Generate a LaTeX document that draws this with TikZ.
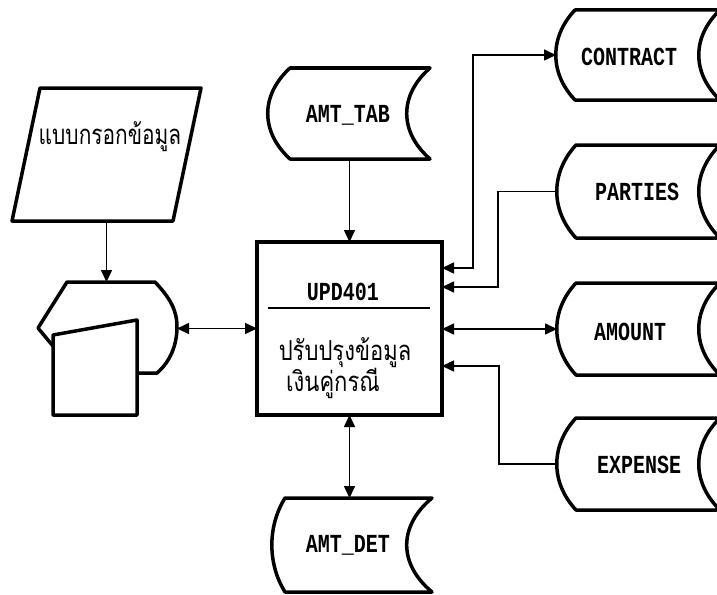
\documentclass[tikz,border=0pt]{standalone}
\usepackage{fontspec}
\newfontfamily\thaifont[Script=Thai]{Loma}
\newfontfamily\dbfont{Liberation Mono}
\usetikzlibrary{arrows.meta,calc}
\newcommand\dbpath[6]{%
  \draw[shapeline] (#1,#3) -- (#2,#3)
    .. controls ({#2-1.35*#6},{#3+0.3*(#4-#3)}) and ({#2-1.35*#6},{#4-0.3*(#4-#3)}) .. (#2,#4)
    -- (#1,#4)
    .. controls ({#1-1.35*#5},{#4-0.3*(#4-#3)}) and ({#1-1.35*#5},{#3+0.3*(#4-#3)}) .. cycle;}
\tikzset{
  shapeline/.style={line width=3.5pt, line join=round},
  conn/.style={line width=1.6pt},
  tip/.tip={Triangle[length=12pt,width=11pt]},
  arr/.style={conn, -tip},
  dbl/.style={conn, tip-tip},
  ghost/.style={draw=none, inner sep=0pt, outer sep=0pt, anchor=north west},
  dbtext/.style={inner sep=0pt, font=\dbfont\bfseries\fontsize{20}{20}\selectfont},
  thtext/.style={inner sep=0pt, font=\thaifont\fontsize{22}{24}\selectfont},
}
\begin{document}
\begin{tikzpicture}[x=1pt,y=-1pt]
\useasboundingbox (0,0) rectangle (717,594);
\clip (0,0) rectangle (717,594);
\fill[white] (0,0) rectangle (717,594);

% ghost nodes for shapes
\node[ghost, minimum width=189pt, minimum height=133pt] (form) at (12,88) {};
\node[ghost, minimum width=139pt, minimum height=133pt] (disp) at (38,282) {};
\node[ghost, minimum width=162pt, minimum height=91pt] (amttab) at (268,68) {};
\node[ghost, minimum width=160pt, minimum height=94pt] (amtdet) at (272,498) {};
\node[ghost, minimum width=164pt, minimum height=90pt] (contract) at (556,10) {};
\node[ghost, minimum width=163pt, minimum height=93pt] (parties) at (557,145) {};
\node[ghost, minimum width=163pt, minimum height=92pt] (amount) at (557,283) {};
\node[ghost, minimum width=163pt, minimum height=92pt] (expense) at (557,418) {};
\node[ghost, draw, line width=3.5pt, minimum width=185pt, minimum height=173pt] (proc) at (257,242) {};

% input form (parallelogram)
\draw[shapeline] (40,88) -- (201,88) -- (173,221) -- (12,221) -- cycle;
\node[thtext] (formT) at (110,137) {\scalebox{0.95}[1.25]{แบบกรอกข้อมูล}};

% display + manual input
\draw[shapeline] (53,346) -- (38,328) -- (67,282) -- (155,282)
  .. controls (170,298) and (177,310) .. (177,327)
  .. controls (177,345) and (170,362) .. (157,373) -- (137,373);
\draw[shapeline] (53,335) -- (53,415) -- (137,415) -- (137,320) -- cycle;

% data stores
\dbpath{290}{430}{68}{159}{22}{23}
\dbpath{285}{432}{498}{592}{13}{25}
\dbpath{575}{720}{10}{100}{19}{21}
\dbpath{576}{720}{145}{238}{19}{21}
\dbpath{576}{720}{283}{375}{19}{21}
\dbpath{576}{720}{418}{510}{19}{21}

\node[dbtext] (amttabT) at (348,115) {\scalebox{1}[1.3]{AMT\_TAB}};
\node[dbtext] (amtdetT) at (348,545) {\scalebox{1}[1.3]{AMT\_DET}};
\node[dbtext] (contractT) at (629,57) {\scalebox{1}[1.3]{CONTRACT}};
\node[dbtext] (partiesT) at (637,192) {\scalebox{1}[1.3]{PARTIES}};
\node[dbtext] (amountT) at (630,332) {\scalebox{1}[1.3]{AMOUNT}};
\node[dbtext] (expenseT) at (639,465) {\scalebox{1}[1.3]{EXPENSE}};

% process box contents
\node[dbtext] (procT) at (343,292) {\scalebox{1}[1.3]{UPD401}};
\draw[line width=2.2pt] ($(proc.north west)+(11,66)$) -- ($(proc.north east)+(-12,66)$);
\node[thtext] (procL1) at (345,353) {\scalebox{1}[1.25]{ปรับปรุงข้อมูล}};
\node[thtext] (procL2) at (333,383) {\scalebox{1}[1.25]{เงินคู่กรณี}};

% connectors
\draw[arr] (form.south) -- (disp.north -| form.south);
\draw[arr] (amttab.south -| proc.north) -- (proc.north);
\draw[dbl] (disp.east |- proc.west) -- (proc.west);
\draw[dbl] (proc.south) -- (amtdet.north -| proc.south);
\draw[dbl] ($(proc.north east)+(0,26)$) -- ++(31,0) |- (contract.west);
\draw[arr] (parties.west) -- ++(-59,0) |- ($(proc.north east)+(0,45)$);
\draw[dbl] (proc.east |- amount.west) -- (amount.west);
\draw[arr] (expense.west) -- ++(-58,0) |- ($(proc.north east)+(0,124)$);
\end{tikzpicture}
\end{document}
